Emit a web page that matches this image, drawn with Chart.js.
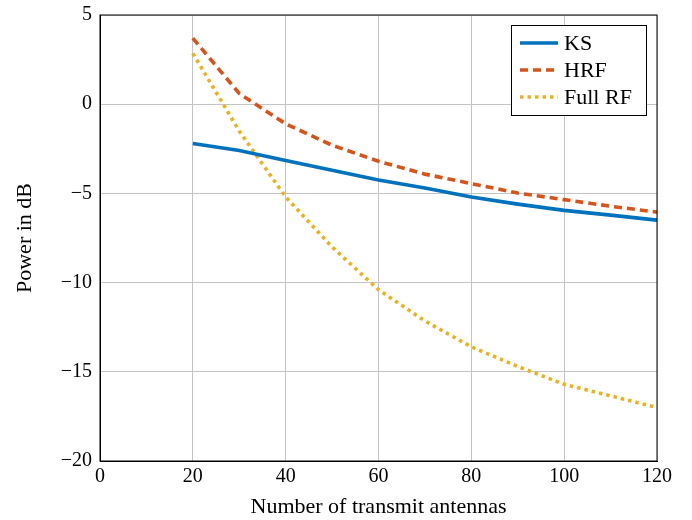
<!DOCTYPE html>
<html>
<head>
<meta charset="utf-8">
<script src="https://cdn.jsdelivr.net/npm/chart.js"></script>
<style>
body { margin:0; background:#fff }
</style>
</head>
<body>
<canvas id="chart" width="692" height="520"></canvas>
<script>
// ===== DATA =====
const antennas = [20, 30, 40, 50, 60, 70, 80, 90, 100, 110, 120];
const ks     = [-2.2, -2.6, -3.15, -3.7, -4.25, -4.7, -5.2, -5.6, -5.95, -6.22, -6.5];
const hrf    = [3.7, 0.6, -1.1, -2.3, -3.2, -3.92, -4.45, -4.98, -5.35, -5.72, -6.05];
const fullRf = [2.85, -1.5, -5.2, -8.0, -10.4, -12.15, -13.6, -14.7, -15.7, -16.35, -17.0];
const xTicks = [0, 20, 40, 60, 80, 100, 120];
const yTicks = [-20, -15, -10, -5, 0, 5];

const FONT = "'Liberation Serif', 'Times New Roman', serif";

function pts(ys) {
  return antennas.map((x, i) => ({ x: x, y: ys[i] }));
}

function minus(v) {
  return String(v).replace("-", "\u2212");
}

// legend drawn inside the plot, top right
const boxLegend = {
  id: "boxLegend",
  afterDraw(chart) {
    const ctx = chart.ctx;
    const x0 = 511, y0 = 25, w = 135, h = 90;
    ctx.save();
    ctx.fillStyle = "#fff";
    ctx.fillRect(x0, y0, w, h);
    ctx.strokeStyle = "#000";
    ctx.lineWidth = 1;
    ctx.strokeRect(x0 + 0.5, y0 + 0.5, w, h);
    chart.data.datasets.forEach((ds, i) => {
      const y = y0 + 18 + i * 27;
      ctx.beginPath();
      ctx.setLineDash(ds.borderDash || []);
      ctx.strokeStyle = ds.borderColor;
      ctx.lineWidth = ds.borderWidth;
      ctx.moveTo(x0 + 9, y);
      ctx.lineTo(x0 + 47, y);
      ctx.stroke();
      ctx.setLineDash([]);
      ctx.fillStyle = "#000";
      ctx.font = "22px " + FONT;
      ctx.textBaseline = "middle";
      ctx.fillText(ds.label, x0 + 53, y + 1);
    });
    ctx.restore();
  }
};

new Chart(document.getElementById("chart"), {
  type: "line",
  data: {
    datasets: [
      { label: "KS", data: pts(ks), borderColor: "#0072BD", borderWidth: 3.6 },
      { label: "HRF", data: pts(hrf), borderColor: "#D95319", borderWidth: 3.6, borderDash: [8, 5] },
      { label: "Full RF", data: pts(fullRf), borderColor: "#EDB120", borderWidth: 3.6, borderDash: [3.5, 4] }
    ]
  },
  options: {
    responsive: false,
    animation: false,
    events: [],
    elements: { point: { radius: 0 }, line: { tension: 0, fill: false } },
    layout: { padding: { left: 0, right: 35, top: 15, bottom: 0 } },
    plugins: { legend: { display: false }, tooltip: { enabled: false } },
    scales: {
      x: {
        type: "linear",
        min: 0, max: 120,
        afterBuildTicks: s => { s.ticks = xTicks.map(v => ({ value: v })); },
        afterFit: s => { s.height = 59; s.paddingLeft = 0; s.paddingRight = 0; },
        grid: { color: "#c4c4c4", drawTicks: false },
        border: { color: "#000", width: 1 },
        ticks: { color: "#000", padding: 4, font: { family: FONT, size: 20 }, callback: v => minus(v) },
        title: { display: true, text: "Number of transmit antennas", color: "#000", font: { family: FONT, size: 22 }, padding: { top: 0, bottom: 0 } }
      },
      y: {
        min: -20, max: 5,
        afterBuildTicks: s => { s.ticks = yTicks.map(v => ({ value: v })); },
        afterFit: s => { s.width = 100; s.paddingTop = 0; s.paddingBottom = 0; },
        grid: { color: "#c4c4c4", drawTicks: false },
        border: { color: "#000", width: 1 },
        ticks: { color: "#000", padding: 8, font: { family: FONT, size: 20 }, callback: v => minus(v) },
        title: { display: true, text: "Power in dB", color: "#000", font: { family: FONT, size: 22 }, padding: { top: 12, bottom: 0 } }
      }
    }
  },
  plugins: [boxLegend, {
    id: "frame",
    afterDatasetsDraw(chart) {
      const a = chart.chartArea, ctx = chart.ctx;
      ctx.save();
      ctx.strokeStyle = "#000";
      ctx.lineWidth = 1;
      ctx.strokeRect(a.left, a.top, a.right - a.left, a.bottom - a.top);
      ctx.restore();
    }
  }]
});
</script>
</body>
</html>
